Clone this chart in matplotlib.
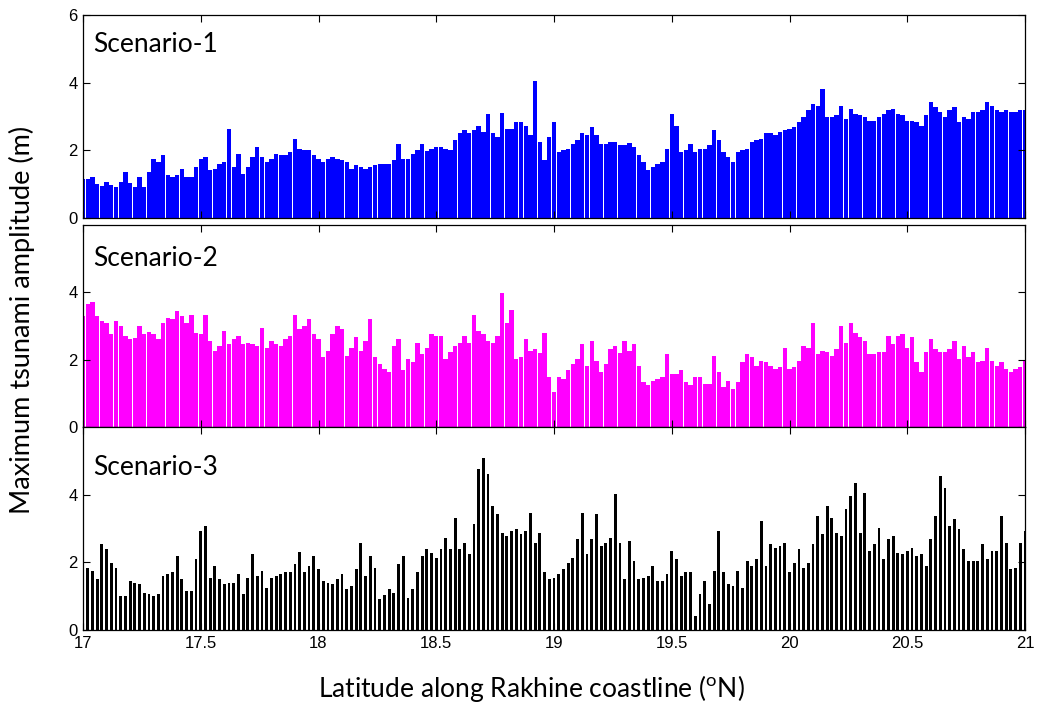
import numpy as np
import matplotlib
matplotlib.use("Agg")
import matplotlib.pyplot as plt

plt.rcParams['mathtext.fontset'] = 'custom'
plt.rcParams['mathtext.rm'] = 'Lato'

# latitude grid (deg N), one value every 0.02 deg
lat = np.linspace(17.0, 21.0, 201)

# max tsunami amplitude (m)
s1 = [1.15, 1.15, 1.22, 1.0, 0.95, 1.07, 0.97, 0.92, 1.07, 1.36,
      1.02, 0.92, 1.2, 0.92, 1.36, 1.75, 1.65, 1.85, 1.26, 1.2,
      1.26, 1.46, 1.2, 1.2, 1.5, 1.75, 1.8, 1.41, 1.46, 1.6,
      1.65, 2.63, 1.5, 1.9, 1.31, 1.5, 1.8, 2.1, 1.8, 1.65,
      1.75, 1.9, 1.85, 1.85, 1.95, 2.34, 2.05, 2.0, 2.0, 1.85,
      1.75, 1.65, 1.75, 1.8, 1.75, 1.7, 1.65, 1.44, 1.56, 1.5,
      1.46, 1.5, 1.58, 1.6, 1.6, 1.6, 1.7, 2.2, 1.73, 1.75,
      1.9, 2.0, 2.2, 1.97, 2.05, 2.1, 2.1, 2.05, 2.0, 2.3,
      2.5, 2.6, 2.5, 2.6, 2.73, 2.54, 3.08, 2.5, 2.4, 3.1,
      2.64, 2.64, 2.83, 2.83, 2.73, 2.44, 4.06, 2.25, 1.7, 2.4,
      2.83, 1.95, 2.0, 2.05, 2.2, 2.3, 2.5, 2.44, 2.68, 2.44,
      2.2, 2.2, 2.25, 2.25, 2.15, 2.15, 2.22, 2.1, 1.85, 1.65,
      1.41, 1.5, 1.6, 1.65, 2.05, 3.08, 2.73, 1.95, 2.0, 2.2,
      1.95, 2.05, 2.05, 2.15, 2.6, 2.3, 1.95, 1.8, 1.65, 1.95,
      2.0, 2.05, 2.25, 2.3, 2.34, 2.5, 2.5, 2.44, 2.54, 2.6,
      2.64, 2.68, 2.83, 2.98, 3.2, 3.37, 3.32, 3.8, 2.98, 2.98,
      3.03, 3.32, 2.93, 3.22, 3.08, 3.03, 2.98, 2.88, 2.88, 2.98,
      3.08, 3.18, 3.22, 3.08, 3.03, 2.88, 2.88, 2.83, 2.73, 3.03,
      3.42, 3.27, 3.13, 2.98, 3.18, 3.27, 2.83, 2.98, 2.93, 3.13,
      3.13, 3.18, 3.42, 3.32, 3.18, 3.13, 3.18, 3.13, 3.13, 3.18,
      3.18]

s2 = [3.3, 3.64, 3.7, 3.3, 3.15, 3.1, 2.75, 3.15, 3.0, 2.7,
      2.6, 2.65, 3.0, 2.75, 2.82, 2.75, 2.6, 3.1, 3.25, 3.2,
      3.44, 3.3, 3.1, 3.34, 2.8, 2.75, 3.34, 2.56, 2.26, 2.41,
      2.85, 2.46, 2.6, 2.7, 2.46, 2.5, 2.46, 2.41, 2.95, 2.36,
      2.56, 2.46, 2.41, 2.6, 2.7, 3.34, 2.9, 3.0, 3.2, 2.75,
      2.6, 2.07, 2.26, 2.75, 3.0, 2.9, 2.12, 2.36, 2.66, 2.26,
      2.56, 3.2, 2.07, 1.87, 1.73, 1.63, 2.41, 2.6, 1.68, 2.02,
      1.92, 2.5, 2.17, 2.36, 2.75, 2.7, 2.7, 2.02, 2.22, 2.41,
      2.5, 2.7, 2.5, 3.34, 2.85, 2.75, 2.56, 2.5, 2.7, 3.98,
      3.1, 3.49, 2.02, 2.07, 2.6, 2.26, 2.31, 2.2, 2.8, 1.48,
      1.04, 1.48, 1.43, 1.68, 1.87, 2.02, 2.46, 1.82, 2.56, 1.97,
      1.63, 1.87, 2.31, 2.41, 2.2, 2.56, 2.26, 2.46, 1.82, 1.33,
      1.24, 1.38, 1.43, 1.48, 2.17, 1.58, 1.58, 1.68, 1.33, 1.24,
      1.48, 1.48, 1.28, 1.28, 2.12, 1.63, 1.19, 1.38, 1.14, 1.33,
      1.92, 2.17, 2.07, 1.82, 1.97, 1.92, 1.82, 1.73, 1.78, 2.36,
      1.73, 1.78, 1.97, 2.41, 2.36, 3.08, 2.17, 2.26, 2.22, 2.12,
      2.31, 3.0, 2.5, 3.1, 2.8, 2.66, 2.56, 2.17, 2.17, 2.22,
      2.22, 2.7, 2.46, 2.7, 2.75, 2.36, 2.66, 1.92, 1.63, 2.22,
      2.6, 2.31, 2.22, 2.22, 2.31, 2.56, 2.02, 2.41, 2.07, 2.22,
      1.92, 1.97, 2.36, 1.97, 1.82, 1.92, 1.73, 1.63, 1.73, 1.78,
      1.97]

s3 = [1.94, 1.84, 1.74, 1.5, 2.53, 2.38, 1.99, 1.84, 1.0, 1.0,
      1.45, 1.4, 1.35, 1.1, 1.05, 1.0, 1.05, 1.6, 1.65, 1.7,
      2.19, 1.5, 1.15, 1.15, 2.09, 2.93, 3.07, 1.55, 1.89, 1.5,
      1.35, 1.4, 1.4, 1.65, 1.05, 1.55, 2.24, 1.6, 1.74, 1.25,
      1.55, 1.6, 1.65, 1.7, 1.72, 1.94, 2.3, 1.7, 1.89, 2.19,
      1.79, 1.45, 1.4, 1.35, 1.5, 1.65, 1.2, 1.3, 1.79, 2.58,
      1.6, 2.19, 1.84, 0.91, 1.02, 1.2, 1.1, 1.94, 2.19, 0.96,
      1.2, 1.7, 2.19, 2.38, 2.29, 2.14, 2.38, 2.73, 2.38, 3.32,
      2.38, 2.58, 2.24, 3.12, 4.75, 5.09, 4.6, 3.66, 3.42, 2.88,
      2.78, 2.93, 2.98, 2.83, 2.93, 3.47, 2.58, 2.88, 1.7, 1.5,
      1.55, 1.65, 1.79, 1.99, 2.14, 2.68, 3.47, 2.24, 2.68, 3.42,
      2.48, 2.58, 2.73, 4.01, 2.58, 1.5, 2.63, 2.04, 1.5, 1.55,
      1.6, 1.89, 1.45, 1.45, 1.65, 2.33, 2.09, 1.6, 1.7, 1.7,
      0.41, 1.05, 1.45, 0.76, 1.74, 2.93, 1.7, 1.35, 1.3, 1.74,
      1.25, 2.04, 1.89, 2.09, 3.22, 1.89, 2.53, 2.43, 2.48, 2.58,
      1.7, 1.99, 2.38, 1.84, 1.99, 2.53, 3.37, 2.83, 3.66, 3.32,
      2.88, 2.78, 3.57, 3.96, 4.35, 2.88, 4.06, 2.33, 2.53, 3.02,
      2.09, 2.68, 2.78, 2.29, 2.24, 2.33, 2.43, 2.19, 2.24, 1.89,
      2.68, 3.37, 4.55, 4.21, 3.07, 3.27, 2.98, 2.38, 2.04, 2.04,
      2.04, 2.53, 2.09, 2.33, 2.33, 3.37, 2.58, 1.79, 1.84, 2.58,
      2.93]

series = [s1, s2, s3]
names = ["Scenario-1", "Scenario-2", "Scenario-3"]
colors = ["#0000ff", "#ff00ff", "#000000"]
widths = [0.0185, 0.0185, 0.012]
label_y = [0.855, 0.835, 0.80]

W, H = 1039, 704
fig = plt.figure(figsize=(W / 100, H / 100), dpi=100)

# panel boxes in pixels: (top, bottom)
boxes = [(15, 218), (225, 427), (427, 630)]
left, right = 83, 1025

for i in range(3):
    top, bot = boxes[i]
    ax = fig.add_axes([left / W, 1 - bot / H, (right - left) / W, (bot - top) / H])
    ax.bar(lat, series[i], width=widths[i], color=colors[i], linewidth=0)
    ax.set_xlim(17, 21)
    ax.set_ylim(0, 6)
    if i == 0:
        ax.set_yticks([0, 2, 4, 6])
    else:
        ax.set_yticks([0, 2, 4])
    ax.set_xticks(np.arange(17, 21.01, 0.5))
    if i == 2:
        ax.set_xticklabels(["17", "17.5", "18", "18.5", "19", "19.5", "20", "20.5", "21"])
    else:
        ax.set_xticklabels([])
    ax.tick_params(direction="in", top=True, right=True, length=5, width=0.8,
                   labelsize=12, pad=4)
    for lab in ax.get_xticklabels() + ax.get_yticklabels():
        lab.set_fontfamily("Liberation Sans")
    for sp in ax.spines.values():
        sp.set_linewidth(0.9)
    ax.text(0.011, label_y[i], names[i], transform=ax.transAxes,
            fontsize=19, family="Lato", va="center", ha="left")

fig.text(22 / W, 1 - 320 / H, "Maximum tsunami amplitude (m)", rotation=90,
         fontsize=19.5, family="Lato", ha="center", va="center")
fig.text(531 / W, 1 - 688 / H, r"Latitude along Rakhine coastline ($^{\mathrm{o}}$N)",
         fontsize=19, family="Lato", ha="center", va="center")

fig.savefig("out.png", dpi=100)
